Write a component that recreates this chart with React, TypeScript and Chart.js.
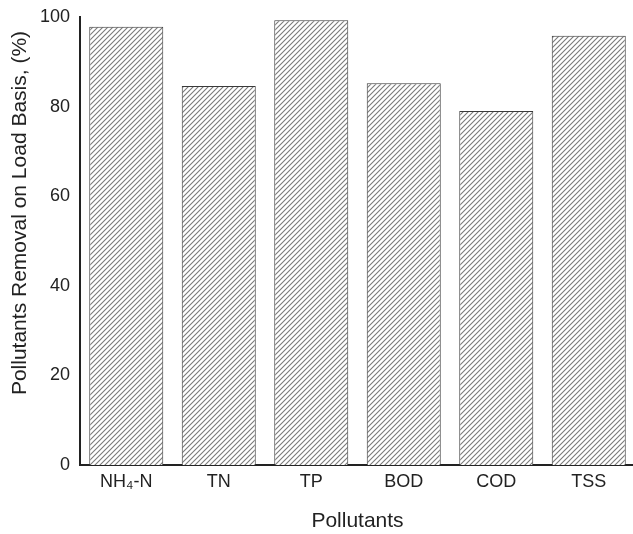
import React, { useEffect, useRef } from "react";
import { Chart, registerables } from "chart.js";

Chart.register(...registerables);

const categories = ["NH₄-N", "TN", "TP", "BOD", "COD", "TSS"];
const removal = [97.8, 84.6, 99.3, 85.2, 79.0, 95.8];
const yTicks = [0, 20, 40, 60, 80, 100];
const yTitle = "Pollutants Removal on Load Basis, (%)";
const xTitle = "Pollutants";

const FONT = "'Liberation Sans', Arial, sans-serif";

function makeHatch(): CanvasPattern | string {
  const s = 5;
  const c = document.createElement("canvas");
  c.width = s;
  c.height = s;
  const g = c.getContext("2d");
  if (!g) return "#ccc";
  g.fillStyle = "#ffffff";
  g.fillRect(0, 0, s, s);
  g.strokeStyle = "#7a7a7a";
  g.lineWidth = 1.1;
  g.beginPath();
  g.moveTo(0, s);
  g.lineTo(s, 0);
  g.moveTo(-1, 1);
  g.lineTo(1, -1);
  g.moveTo(s - 1, s + 1);
  g.lineTo(s + 1, s - 1);
  g.stroke();
  const p = g.createPattern(c, "repeat");
  return p || "#ccc";
}

const yTitlePlugin = {
  id: "yTitleCustom",
  afterDraw(chart: any) {
    const ctx = chart.ctx as CanvasRenderingContext2D;
    ctx.save();
    ctx.translate(20, 213);
    ctx.rotate(-Math.PI / 2);
    ctx.font = `21px ${FONT}`;
    ctx.fillStyle = "#222";
    ctx.textAlign = "center";
    ctx.textBaseline = "middle";
    ctx.fillText(yTitle, 0, 0);
    ctx.restore();
  },
};

export default function App() {
  const ref = useRef<HTMLCanvasElement>(null);
  useEffect(() => {
    if (!ref.current) return;
    const chart = new Chart(ref.current, {
      type: "bar",
      data: {
        labels: categories,
        datasets: [
          {
            data: removal,
            backgroundColor: makeHatch() as any,
            borderColor: "#3a3a3a",
            borderWidth: 1,
            barPercentage: 0.8,
            categoryPercentage: 1.0,
          },
        ],
      },
      plugins: [yTitlePlugin],
      options: {
        animation: false,
        responsive: false,
        layout: { padding: { top: 17, right: 5, left: 0, bottom: 0 } },
        plugins: { legend: { display: false }, tooltip: { enabled: false } },
        scales: {
          x: {
            afterFit: (axis: any) => {
              axis.height = 69;
              axis.paddingLeft = 0;
              axis.paddingRight = 0;
            },
            grid: { display: false, drawTicks: false },
            border: { display: true, color: "#222", width: 2 },
            ticks: { color: "#222", font: { family: FONT, size: 18 }, padding: 6 },
            title: {
              display: true,
              text: xTitle,
              color: "#222",
              font: { family: FONT, size: 21 },
              padding: { top: 0, bottom: 0 },
            },
          },
          y: {
            min: 0,
            max: 100,
            afterBuildTicks: (axis: any) => {
              axis.ticks = yTicks.map((v) => ({ value: v }));
            },
            afterFit: (axis: any) => {
              axis.width = 80;
              axis.paddingTop = 0;
              axis.paddingBottom = 0;
            },
            grid: { display: false, drawTicks: false },
            border: { display: true, color: "#222", width: 2 },
            ticks: { color: "#222", font: { family: FONT, size: 18 }, padding: 10 },
            title: { display: false },
          },
        },
      },
    });
    return () => chart.destroy();
  }, []);
  return (
    <div
      style={{
        position: "fixed",
        left: 0,
        top: 0,
        width: 633,
        height: 534,
        overflow: "hidden",
        background: "#fff",
      }}
    >
      <canvas ref={ref} width={640} height={534} style={{ display: "block" }} />
    </div>
  );
}
